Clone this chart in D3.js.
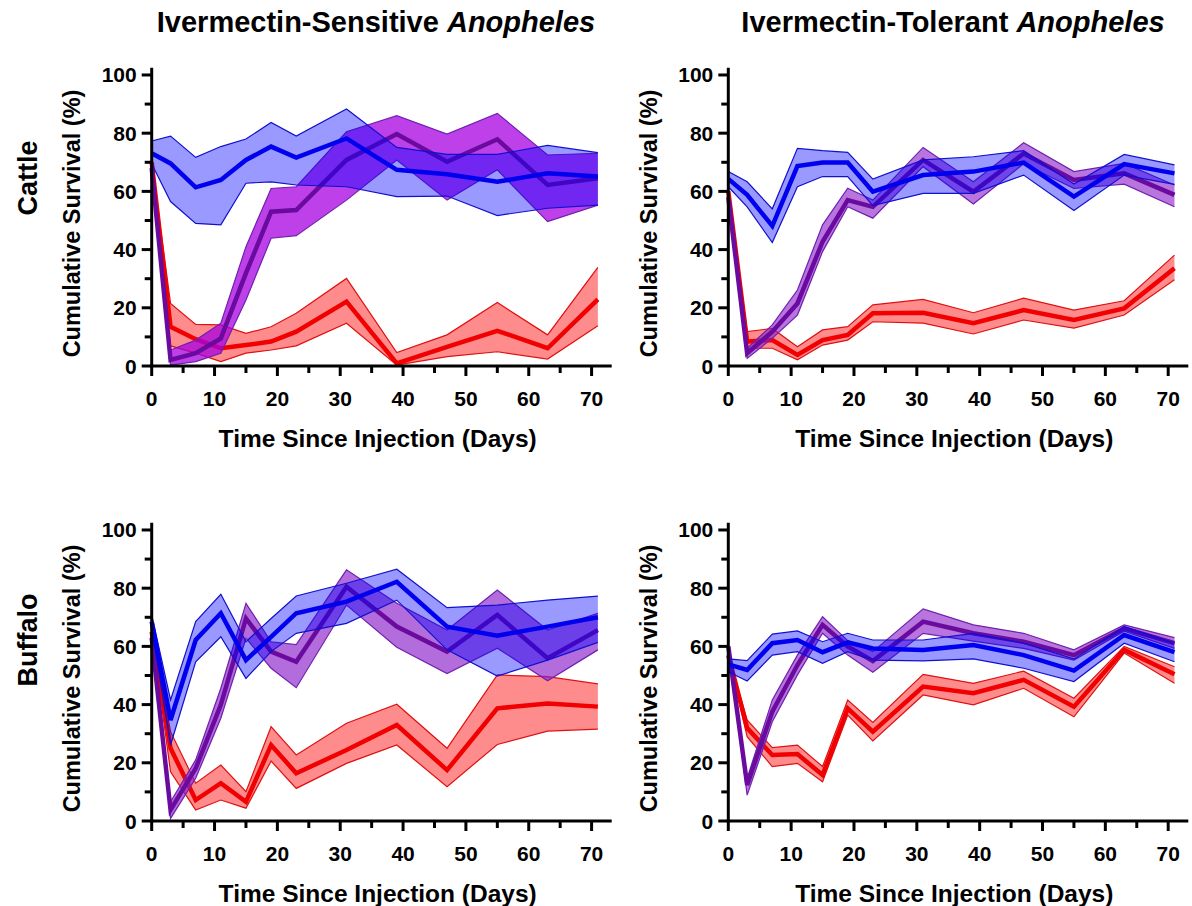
<!DOCTYPE html>
<html><head><meta charset="utf-8">
<script src="https://cdn.jsdelivr.net/npm/d3@7"></script>
<style>
body{margin:0;background:#fff;}
text{font-family:"Liberation Sans",Arial,sans-serif;font-weight:bold;fill:#000;}
</style></head><body>
<svg id="chart" width="1192" height="906"></svg>
<script>
// ---- data ----
const days = [0,3,7,11,15,19,23,31,39,47,55,63,71];
const xTicks = [0,10,20,30,40,50,60,70];
const yTicks = [0,20,40,60,80,100];
const colTitles = ["Ivermectin-Sensitive ", "Ivermectin-Tolerant "];
const rowTitles = ["Cattle","Buffalo"];
const seriesNames = ["red","purple","blue"];

// Cattle, Sensitive
const cs_red_mean = [70,13.5,9.2,6.1,7.2,8.4,11.8,22.1,0.9,6.6,12.1,6.1,22.9];
const cs_red_lo   = [70,6.9,4.4,1.5,4.4,5.5,6.9,14.7,0.3,3.2,4.9,2.4,13.8];
const cs_red_hi   = [70,21.5,14.3,14.1,11.2,13.5,18.1,30.1,4.6,10.7,21.8,10.7,33.9];
const cs_pur_mean = [68,2.1,4.4,9.5,31.9,53.0,53.6,70.8,79.7,70.2,77.9,62.2,64.5];
const cs_pur_lo   = [68,0.3,1.5,4.4,22.7,43.9,44.8,57.0,70.8,57.0,67.4,49.6,55.3];
const cs_pur_hi   = [68,5.5,8.9,14.7,41.0,61.0,61.6,80.5,86.0,79.7,86.8,72.5,73.1];
const cs_blu_mean = [73.1,69.6,61.4,63.9,70.8,75.4,71.6,78.2,67.4,65.9,63.3,66.2,65.1];
const cs_blu_lo   = [69.5,56.5,49.0,48.5,62.8,63.3,62.2,61.6,58.2,58.4,51.7,54.2,55.3];
const cs_blu_hi   = [77.3,79.0,71.7,75.4,78.0,83.7,79.0,88.3,75.1,72.7,72.7,75.8,73.3];

// Cattle, Tolerant
const ct_red_mean = [60,8.4,8.9,3.8,8.9,10.7,18.1,18.3,14.7,19.2,15.8,19.8,33.6];
const ct_red_lo   = [60,6.1,6.1,2.1,7.2,8.9,15.2,14.7,11.0,15.8,13.0,17.5,29.6];
const ct_red_hi   = [60,11.8,12.9,6.6,12.4,13.5,21.0,22.9,18.3,23.3,19.2,22.4,38.1];
const ct_pur_mean = [58,4.4,11.8,21.5,42.7,57.0,54.7,70.8,59.9,73.0,63.9,66.2,58.8];
const ct_pur_lo   = [58,2.6,9.5,17.5,39.3,54.7,50.8,68.5,55.7,69.5,61.0,62.5,54.7];
const ct_pur_hi   = [58,6.1,14.1,26.1,48.5,61.1,57.0,75.1,63.3,76.7,66.8,69.6,62.2];
const ct_blu_mean = [64.3,58.8,48.1,68.7,69.9,69.9,59.9,65.6,66.8,69.9,58.2,69.4,66.2];
const ct_blu_lo   = [61.6,54.7,42.4,61.6,65.1,65.1,55.1,59.3,59.3,65.6,53.4,65.6,62.4];
const ct_blu_hi   = [66.8,63.3,54.0,74.8,74.0,73.4,64.2,70.8,71.9,74.0,62.5,72.7,69.1];

// Buffalo, Sensitive
const bs_red_mean = [65,25.0,7.2,13.0,6.6,26.1,16.4,24.4,33.0,17.5,38.7,40.4,39.3];
const bs_red_lo   = [65,16.9,3.8,7.2,4.4,20.6,11.2,19.8,26.1,11.8,26.3,30.9,31.6];
const bs_red_hi   = [65,30.7,13.0,19.2,10.1,32.4,22.7,33.6,40.1,25.0,50.2,49.6,47.1];
const bs_pur_mean = [63,3.8,18.1,39.9,69.6,58.2,54.7,80.5,66.8,58.2,70.8,55.9,65.6];
const bs_pur_lo   = [63,0.9,14.7,35.3,62.8,52.5,45.8,74.2,59.7,50.7,59.4,48.2,58.8];
const bs_pur_hi   = [63,6.6,21.0,45.6,74.8,61.6,60.6,86.3,74.8,65.6,79.4,65.6,71.4];
const bs_blu_mean = [68.5,34.7,62.2,71.4,55.3,63.3,71.4,75.4,82.2,66.8,63.7,66.8,70.0];
const bs_blu_lo   = [66.2,26.1,54.7,63.3,49.0,58.2,64.5,67.9,75.9,58.8,49.8,55.3,61.4];
const bs_blu_hi   = [70.8,41.6,68.5,77.9,61.6,69.6,77.3,81.7,86.5,73.3,74.2,75.9,77.3];

// Buffalo, Tolerant
const bt_red_mean = [57,31.9,22.7,23.0,15.8,38.7,30.7,46.2,43.9,48.5,39.3,58.8,50.4];
const bt_red_lo   = [57,29.0,18.7,19.8,13.5,36.4,27.5,43.3,39.9,45.6,35.8,57.7,47.3];
const bt_red_hi   = [57,34.7,25.2,26.1,18.7,41.6,33.9,50.4,47.3,51.5,42.2,60.0,53.0];
const bt_pur_mean = [60,12.4,37.6,53.6,67.4,60.0,55.0,68.5,64.5,61.6,57.0,66.2,61.1];
const bt_pur_lo   = [60,8.9,34.1,50.2,64.5,57.0,51.1,64.5,61.8,59.3,55.3,65.2,59.3];
const bt_pur_hi   = [60,14.7,41.6,57.0,70.2,62.0,58.2,72.9,67.4,64.5,58.8,67.4,63.0];
const bt_blu_mean = [53.8,51.9,61.1,62.2,58.0,61.4,59.3,58.8,60.5,57.0,51.7,63.9,58.0];
const bt_blu_lo   = [51.3,48.1,57.0,58.2,54.2,58.2,55.3,55.0,55.7,52.5,47.9,61.1,54.7];
const bt_blu_hi   = [55.7,55.1,64.2,65.3,61.6,64.5,62.2,62.2,64.5,61.1,55.7,66.8,61.1];

// ---- panels (layout only) ----
const panels = [
  {left:151.7, bottom:366, purpleFill:"#a800e0", purpleOp:0.75,
   series:{red:[cs_red_mean,cs_red_lo,cs_red_hi],purple:[cs_pur_mean,cs_pur_lo,cs_pur_hi],blue:[cs_blu_mean,cs_blu_lo,cs_blu_hi]}},
  {left:728.3, bottom:366, purpleFill:"#8a20c8", purpleOp:0.62,
   series:{red:[ct_red_mean,ct_red_lo,ct_red_hi],purple:[ct_pur_mean,ct_pur_lo,ct_pur_hi],blue:[ct_blu_mean,ct_blu_lo,ct_blu_hi]}},
  {left:151.7, bottom:821, purpleFill:"#8a20c8", purpleOp:0.66,
   series:{red:[bs_red_mean,bs_red_lo,bs_red_hi],purple:[bs_pur_mean,bs_pur_lo,bs_pur_hi],blue:[bs_blu_mean,bs_blu_lo,bs_blu_hi]}},
  {left:728.3, bottom:821, purpleFill:"#8a20c8", purpleOp:0.62,
   series:{red:[bt_red_mean,bt_red_lo,bt_red_hi],purple:[bt_pur_mean,bt_pur_lo,bt_pur_hi],blue:[bt_blu_mean,bt_blu_lo,bt_blu_hi]}}
];

const svg = d3.select("#chart");
const W = 460, H = 298.3;  // plot extents
const xMax = 73.2, yMax = 102.5;

const style = {
  red:   {fill:"#ff0000", op:0.45, edge:"#e01010", line:"#f00000"},
  blue:  {fill:"#0000ff", op:0.40, edge:"#1010d0", line:"#0000ee"},
  purple:{fill:null,      op:null, edge:"#7020b0", line:"#6a0a9e"}
};

panels.forEach(p => {
  const x = d3.scaleLinear().domain([0,xMax]).range([p.left, p.left+W]);
  const y = d3.scaleLinear().domain([0,yMax]).range([p.bottom, p.bottom-H]);
  const g = svg.append("g");

  seriesNames.forEach(name => {
    const [m, lo, hi] = p.series[name];
    const st = style[name];
    const rows = days.map((d,i)=>({d, m:m[i], lo:lo[i], hi:hi[i]}));
    const fill = name==="purple" ? p.purpleFill : st.fill;
    const op = name==="purple" ? p.purpleOp : st.op;
    g.append("path").datum(rows)
      .attr("d", d3.area().x(r=>x(r.d)).y0(r=>y(r.lo)).y1(r=>y(r.hi)))
      .attr("fill", fill).attr("fill-opacity", op).attr("stroke","none");
    [ "lo","hi" ].forEach(k=>{
      g.append("path").datum(rows)
        .attr("d", d3.line().x(r=>x(r.d)).y(r=>y(r[k])))
        .attr("fill","none").attr("stroke", st.edge).attr("stroke-width",1.2);
    });
    g.append("path").datum(rows)
      .attr("d", d3.line().x(r=>x(r.d)).y(r=>y(r.m)))
      .attr("fill","none").attr("stroke", st.line).attr("stroke-width",4.5)
      .attr("stroke-linejoin","miter");
  });

  // x axis
  const ax = svg.append("g").attr("transform",`translate(0,${p.bottom})`);
  ax.append("line").attr("x1",x(0)-1.5).attr("x2",x(xMax)).attr("y1",0).attr("y2",0)
    .attr("stroke","#000").attr("stroke-width",3);
  d3.range(0,71,5).forEach(v=>{
    const major = v%10===0;
    ax.append("line").attr("x1",x(v)).attr("x2",x(v)).attr("y1",0).attr("y2",major?10:7)
      .attr("stroke","#000").attr("stroke-width",3);
  });
  ax.selectAll("text.xt").data(xTicks).enter().append("text")
    .attr("x",v=>x(v)).attr("y",40).attr("text-anchor","middle")
    .attr("font-size",21).text(v=>v);
  ax.append("text").attr("x",p.left+W/2 - 4).attr("y",81)
    .attr("text-anchor","middle").attr("font-size",24.5).text("Time Since Injection (Days)");

  // y axis
  const ay = svg.append("g").attr("transform",`translate(${p.left},0)`);
  ay.append("line").attr("x1",0).attr("x2",0).attr("y1",y(0)+1.5).attr("y2",y(yMax))
    .attr("stroke","#000").attr("stroke-width",3);
  d3.range(0,101,10).forEach(v=>{
    const major = v%20===0;
    ay.append("line").attr("x1",0).attr("x2",major?-10:-7).attr("y1",y(v)).attr("y2",y(v))
      .attr("stroke","#000").attr("stroke-width",3);
  });
  ay.selectAll("text.yt").data(yTicks).enter().append("text")
    .attr("x",-15).attr("y",v=>y(v)+7.5).attr("text-anchor","end")
    .attr("font-size",21).text(v=>v);
  ay.append("text")
    .attr("transform",`translate(-71.5,${y(50)+3}) rotate(-90)`)
    .attr("text-anchor","middle").attr("font-size",23.5).text("Cumulative Survival (%)");
});

// column titles
[376, 953].forEach((cx,i)=>{
  const t = svg.append("text").attr("x",cx).attr("y",32).attr("text-anchor","middle").attr("font-size",29);
  t.append("tspan").text(colTitles[i]);
  t.append("tspan").attr("font-style","italic").text("Anopheles");
});
// row titles
[178, 640].forEach((cy,i)=>{
  svg.append("text").attr("transform",`translate(37,${cy}) rotate(-90)`)
    .attr("text-anchor","middle").attr("font-size",27).text(rowTitles[i]);
});
</script></body></html>
